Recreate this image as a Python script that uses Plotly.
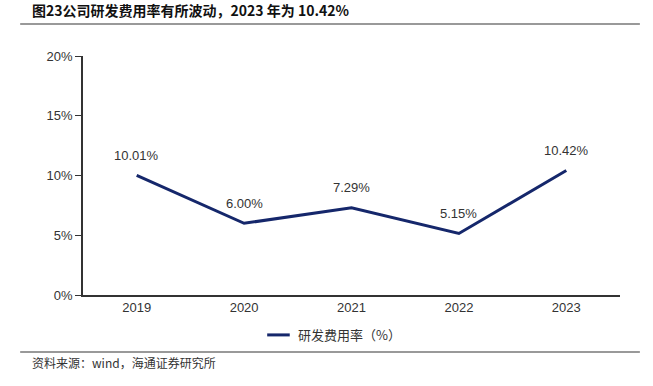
import plotly.graph_objects as go

years = ["2019", "2020", "2021", "2022", "2023"]
rates = [10.01, 6.00, 7.29, 5.15, 10.42]
labels = ["10.01%", "6.00%", "7.29%", "5.15%", "10.42%"]
yticks = [0, 5, 10, 15, 20]
ytick_text = ["0%", "5%", "10%", "15%", "20%"]
series_name = "研发费用率（%）"

font_cn = "Noto Sans CJK SC"
font_num = "Liberation Sans, Arial"
line_color = "#15276b"

fig = go.Figure()
fig.add_trace(go.Scatter(
    x=years, y=rates, mode="lines",
    line=dict(color=line_color, width=3),
    name=series_name, showlegend=False,
))

annotations = []
for i, (v, lab) in enumerate(zip(rates, labels)):
    annotations.append(dict(x=i, y=v, text=lab, showarrow=False, yshift=20,
                            xanchor="center", yanchor="middle",
                            font=dict(family=font_num, size=13, color="#333333")))

annotations += [
    dict(text="<b>图23公司研发费用率有所波动，2023 年为 10.42%</b>", xref="paper", yref="paper",
         x=-0.099, y=1.192, xanchor="left", yanchor="middle", showarrow=False,
         font=dict(family=font_cn, size=14, color="#111111")),
    dict(text="资料来源：wind，海通证券研究所", xref="paper", yref="paper",
         x=-0.099, y=-0.283, xanchor="left", yanchor="middle", showarrow=False,
         font=dict(family=font_cn, size=12, color="#333333")),
    dict(text=series_name, xref="paper", yref="paper",
         x=0.396, y=-0.167, xanchor="left", yanchor="middle", showarrow=False,
         font=dict(family=font_cn, size=13, color="#333333")),
]

fig.update_layout(
    width=653, height=386,
    paper_bgcolor="white", plot_bgcolor="white",
    margin=dict(l=83, r=33, t=56, b=91),
    showlegend=False,
    xaxis=dict(type="category", categoryarray=years, range=[-0.5, len(years) - 0.5],
               showline=True, linecolor="#333333", linewidth=1.5,
               ticks="", showgrid=False, automargin=False,
               tickfont=dict(family=font_num, size=13, color="#333333")),
    yaxis=dict(range=[0, 20], tickvals=yticks, ticktext=ytick_text,
               showline=True, linecolor="#333333", linewidth=1.5,
               ticks="outside", ticklen=6, tickcolor="#333333",
               showgrid=False, zeroline=False, automargin=False,
               tickfont=dict(family=font_num, size=13, color="#333333")),
    shapes=[
        dict(type="line", xref="paper", yref="paper", x0=-0.117, x1=1.037,
             y0=1.134, y1=1.134, line=dict(color="#999999", width=2)),
        dict(type="line", xref="paper", yref="paper", x0=-0.117, x1=1.037,
             y0=-0.238, y1=-0.238, line=dict(color="#999999", width=2)),
        dict(type="line", xref="paper", yref="paper", x0=0.343, x1=0.385,
             y0=-0.167, y1=-0.167, line=dict(color=line_color, width=3)),
    ],
    annotations=annotations,
)

fig.write_html("out.html", config={"displayModeBar": False},
               post_script="document.body.style.margin='0';document.body.style.padding='0';")
